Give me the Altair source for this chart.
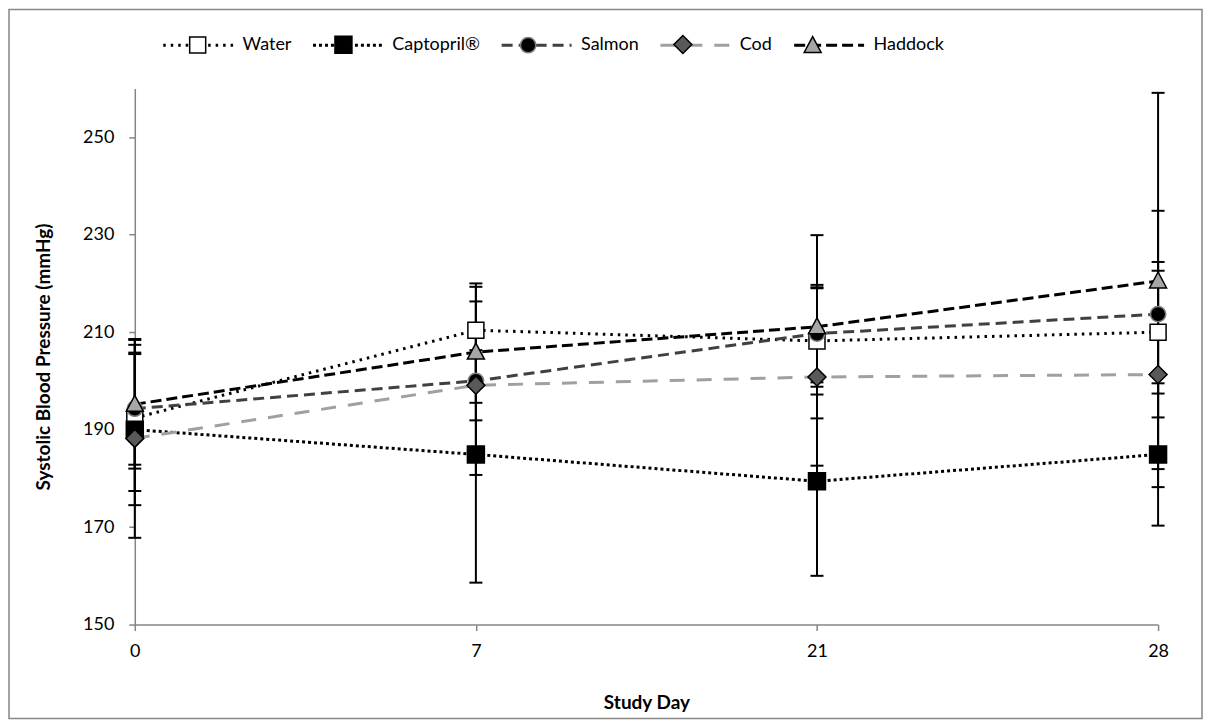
import altair as alt
import pandas as pd

days = ["0", "7", "21", "28"]
series = ["Water", "Captopril®", "Salmon", "Cod", "Haddock"]

means_water = [192.4, 210.4, 208.2, 210.0]
means_captopril = [190.0, 184.9, 179.4, 184.9]
means_salmon = [194.3, 200.0, 209.7, 213.7]
means_cod = [188.2, 199.1, 200.8, 201.3]
means_haddock = [195.2, 205.9, 211.1, 220.5]

err_water = [15.0, 9.6, 11.0, 12.6]
err_captopril = [15.5, 26.3, 19.4, 14.6]
err_salmon = [11.5, 19.3, 10.0, 21.2]
err_cod = [20.4, 7.2, 18.2, 23.1]
err_haddock = [13.2, 10.4, 18.8, 38.6]

y_ticks = [150, 170, 190, 210, 230, 250]

all_means = [means_water, means_captopril, means_salmon, means_cod, means_haddock]
all_errs = [err_water, err_captopril, err_salmon, err_cod, err_haddock]

ZW = "\u200b"  # keeps the marker legend separate from the line legend
series2 = [s + ZW for s in series]

rows = []
for s, s2, ms, es in zip(series, series2, all_means, all_errs):
    for d, m, e in zip(days, ms, es):
        rows.append({"Day": d, "Series": s, "Series2": s2, "Mean": m,
                     "Lo": m - e, "Hi": m + e})
df = pd.DataFrame(rows)

# styles
line_colors = ["#000000", "#000000", "#404040", "#a0a0a0", "#000000"]
dashes = [[2.5, 5], [3, 3], [11, 6], [15, 12], [11, 5]]
fills = ["#ffffff", "#000000", "#000000", "#595959", "#a6a6a6"]
strokes = ["#000000", "#000000", "#808080", "#000000", "#000000"]
ext = "M-1,0M1,0"
paths = [
    ext + "M-0.229,-0.229H0.229V0.229H-0.229Z",
    ext + "M-0.243,-0.243H0.243V0.243H-0.243Z",
    ext + "M0.22,0A0.22,0.22,0,1,1,-0.22,0A0.22,0.22,0,1,1,0.22,0Z",
    ext + "M0,-0.257L0.257,0L0,0.257L-0.257,0Z",
    ext + "M0,-0.257L0.243,0.2L-0.243,0.2Z",
]
SYM = 4900

FONT = "Lato"
FS = 18
TFS = 19

x_enc = alt.X("Day:O", sort=days,
              scale=alt.Scale(type="point", padding=0),
              axis=alt.Axis(title="Study Day", labelAngle=0, titlePadding=33,
                            labelPadding=12))
y_scale = alt.Scale(domain=[150, 260], nice=False, zero=False)
y_axis = alt.Axis(title="Systolic Blood Pressure (mmHg)", values=y_ticks,
                  grid=False, titlePadding=29, labelPadding=15)

leg_common = dict(orient="none", legendX=27, legendY=-80, direction="horizontal",
                  title=None, symbolSize=SYM, labelFontSize=FS, labelFont=FONT,
                  labelOffset=8, columnPadding=15, padding=0)
leg1 = alt.Legend(symbolStrokeWidth=3, symbolType="stroke",
                  labelColor="#000000", **leg_common)
leg2 = alt.Legend(symbolStrokeWidth=1.5, labelOpacity=0, zindex=1, **leg_common)

base = alt.Chart(df)

lines = base.mark_line(strokeWidth=3, strokeCap="butt").encode(
    x=x_enc,
    y=alt.Y("Mean:Q", scale=y_scale, axis=y_axis),
    color=alt.Color("Series:N", scale=alt.Scale(domain=series, range=line_colors), legend=leg1),
    strokeDash=alt.StrokeDash("Series:N", scale=alt.Scale(domain=series, range=dashes), legend=leg1),
)

bars = base.mark_rule(color="#000000", strokeWidth=2).encode(
    x=x_enc,
    y=alt.Y("Lo:Q", scale=y_scale, axis=y_axis),
    y2="Hi:Q",
)
caps_lo = base.mark_tick(color="#000000", thickness=2, size=13, opacity=1).encode(
    x=x_enc, y=alt.Y("Lo:Q", scale=y_scale, axis=y_axis))
caps_hi = base.mark_tick(color="#000000", thickness=2, size=13, opacity=1).encode(
    x=x_enc, y=alt.Y("Hi:Q", scale=y_scale, axis=y_axis))

points = base.mark_point(filled=True, size=SYM, strokeWidth=1.5, opacity=1,
                         fillOpacity=1, strokeOpacity=1).encode(
    x=x_enc,
    y=alt.Y("Mean:Q", scale=y_scale, axis=y_axis),
    shape=alt.Shape("Series2:N", scale=alt.Scale(domain=series2, range=paths), legend=leg2),
    fill=alt.Fill("Series2:N", scale=alt.Scale(domain=series2, range=fills), legend=leg2),
    stroke=alt.Stroke("Series2:N", scale=alt.Scale(domain=series2, range=strokes), legend=leg2),
)

frame = alt.Chart(pd.DataFrame({"f": [0]})).mark_rect(
    fillOpacity=0, stroke="#868686", strokeWidth=1.5).encode(
    x=alt.value(-126), x2=alt.value(1069), y=alt.value(-79), y2=alt.value(631))

chart = alt.layer(frame, lines, bars, caps_lo, caps_hi, points).properties(
    width=1025, height=537,
    autosize=alt.AutoSizeParams(type="none"),
    padding={"left": 127, "top": 80, "right": 46, "bottom": 96},
    background="#ffffff",
).configure_view(strokeWidth=0).configure_axis(
    domainColor="#868686", domainWidth=1.5, tickColor="#868686", tickWidth=1.5,
    tickSize=6, labelFont=FONT, labelFontSize=FS, labelColor="#000000",
    titleFont=FONT, titleFontSize=TFS, titleFontWeight="bold", titleColor="#000000",
)

chart.save("out.html", embed_options={"renderer": "svg", "actions": False})
